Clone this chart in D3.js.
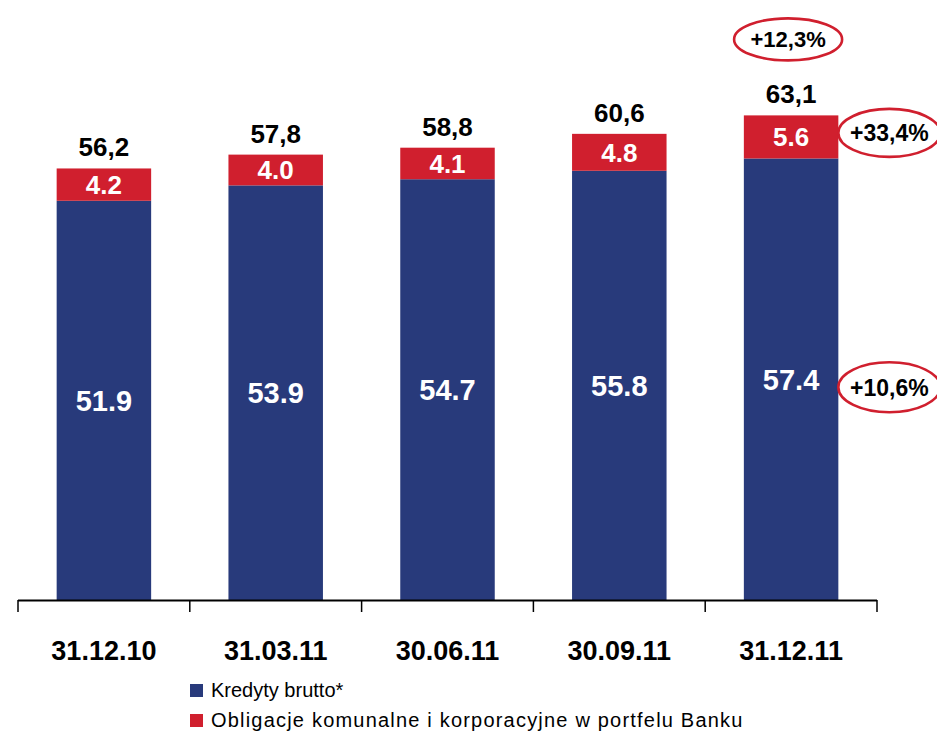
<!DOCTYPE html>
<html>
<head>
<meta charset="utf-8">
<script src="https://cdn.jsdelivr.net/npm/d3@7"></script>
<style>
  html, body { margin: 0; padding: 0; background: #fff; }
  svg { display: block; }
  text { font-family: "Liberation Sans", Arial, sans-serif; }
</style>
</head>
<body>
<svg id="chart" width="937" height="731"></svg>
<script>
// Portfolio structure, bn PLN
const categories = ["31.12.10", "31.03.11", "30.06.11", "30.09.11", "31.12.11"];
const loans = [51.9, 53.9, 54.7, 55.8, 57.4];          // Kredyty brutto*
const bonds = [4.2, 4.0, 4.1, 4.8, 5.6];               // Obligacje komunalne i korporacyjne
const totals = [56.2, 57.8, 58.8, 60.6, 63.1];
const seriesNames = ["Kredyty brutto*", "Obligacje komunalne i korporacyjne w portfelu Banku"];
const growth = { total: "+12,3%", bonds: "+33,4%", loans: "+10,6%" };

const BLUE = "#283a7b";
const RED = "#d01f2e";

const svg = d3.select("#chart");

const x = d3.scaleBand()
  .domain(categories)
  .range([18, 877])
  .paddingInner(0.45)
  .paddingOuter(0.225);

const y = d3.scaleLinear().domain([0, 78]).range([600, 0]);

const rows = categories.map((c, i) => ({ cat: c, loans: loans[i], bonds: bonds[i], total: totals[i] }));
const stack = d3.stack().keys(["loans", "bonds"])(rows);
const colors = { loans: BLUE, bonds: RED };

// stacked bars
stack.forEach(layer => {
  svg.append("g").selectAll("rect")
    .data(layer)
    .join("rect")
    .attr("x", d => x(d.data.cat))
    .attr("width", x.bandwidth())
    .attr("y", d => y(d[1]))
    .attr("height", d => y(d[0]) - y(d[1]))
    .attr("fill", colors[layer.key]);
});

const fmtDot = d3.format(".1f");
const fmtComma = v => d3.format(".1f")(v).replace(".", ",");

// segment value labels
const seg = svg.append("g").attr("fill", "#fff").attr("font-weight", "bold").attr("text-anchor", "middle");
stack.forEach(layer => {
  seg.selectAll(null)
    .data(layer)
    .join("text")
    .attr("x", d => x(d.data.cat) + x.bandwidth() / 2)
    .attr("y", d => (y(d[0]) + y(d[1])) / 2)
    .attr("dy", "0.36em")
    .attr("font-size", layer.key === "loans" ? 29 : 26)
    .text(d => fmtDot(d.data[layer.key]));
});

// totals above bars
const topLayer = stack[stack.length - 1];
svg.append("g").attr("font-weight", "bold").attr("text-anchor", "middle").attr("font-size", 26)
  .selectAll("text")
  .data(topLayer)
  .join("text")
  .attr("x", d => x(d.data.cat) + x.bandwidth() / 2)
  .attr("y", d => y(d[1]) - 12)
  .attr("fill", "#000")
  .text(d => fmtComma(d.data.total));

// category axis with ticks on band boundaries
const step = x.step();
const first = x(categories[0]) - (step - x.bandwidth()) / 2;
const bounds = d3.range(categories.length + 1).map(i => first + i * step);
const axis = svg.append("g");
axis.append("line")
  .attr("x1", bounds[0]).attr("x2", bounds[bounds.length - 1])
  .attr("y1", y(0) + 0.5).attr("y2", y(0) + 0.5)
  .attr("stroke", "#000").attr("stroke-width", 2);
axis.selectAll("line.tick")
  .data(bounds)
  .join("line")
  .attr("class", "tick")
  .attr("x1", d => d).attr("x2", d => d)
  .attr("y1", y(0)).attr("y2", y(0) + 12)
  .attr("stroke", "#000").attr("stroke-width", 1.5);
axis.selectAll("text")
  .data(categories)
  .join("text")
  .attr("x", d => x(d) + x.bandwidth() / 2)
  .attr("y", 660)
  .attr("text-anchor", "middle")
  .attr("font-weight", "bold")
  .attr("font-size", 27)
  .text(d => d);

// growth callouts for the last period
const n = categories.length - 1;
const lastLoans = stack[0][n];
const lastBonds = topLayer[n];
const cxLast = x(categories[n]) + x.bandwidth() / 2;
const rightOf = x(categories[n]) + x.bandwidth() + 51;
const callouts = [
  { text: growth.total, cx: cxLast - 3, cy: y(lastBonds[1]) - 76, rx: 54, ry: 21, size: 22 },
  { text: growth.bonds, cx: rightOf, cy: (y(lastBonds[0]) + y(lastBonds[1])) / 2 - 4, rx: 51, ry: 24, size: 23 },
  { text: growth.loans, cx: rightOf, cy: (y(lastLoans[0]) + y(lastLoans[1])) / 2 + 8, rx: 51, ry: 25, size: 23 }
];
const cg = svg.append("g");
cg.selectAll("ellipse")
  .data(callouts)
  .join("ellipse")
  .attr("cx", d => d.cx).attr("cy", d => d.cy)
  .attr("rx", d => d.rx).attr("ry", d => d.ry)
  .attr("fill", "none").attr("stroke", RED).attr("stroke-width", 2.6);
cg.selectAll("text")
  .data(callouts)
  .join("text")
  .attr("x", d => d.cx).attr("y", d => d.cy)
  .attr("dy", "0.36em")
  .attr("text-anchor", "middle")
  .attr("font-weight", "bold")
  .attr("font-size", d => d.size)
  .text(d => d.text);

// legend
const legend = svg.append("g").attr("transform", "translate(190,684)");
const items = legend.selectAll("g")
  .data(seriesNames.map((name, i) => ({ name, color: i === 0 ? BLUE : RED })))
  .join("g")
  .attr("transform", (d, i) => `translate(0,${i * 30})`);
items.append("rect").attr("width", 13).attr("height", 13).attr("fill", d => d.color);
items.append("text")
  .attr("x", 21).attr("y", 13)
  .attr("font-size", 20)
  .attr("letter-spacing", (d, i) => i === 0 ? 0 : 1.2)
  .attr("fill", "#000")
  .text(d => d.name);
</script>
</body>
</html>
